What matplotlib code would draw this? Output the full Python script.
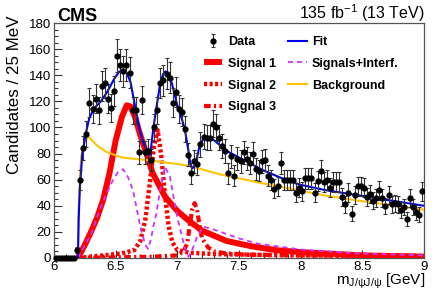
import numpy as np
import matplotlib
matplotlib.use("Agg")
import matplotlib.pyplot as plt
from matplotlib.ticker import MultipleLocator
from matplotlib.lines import Line2D

# ---------------- data ----------------
bin_width = 0.025
bin_start = 6.0
counts = [0, 0, 0, 0, 0, 0, 0, 6, 60, 84,
          95, 119, 114, 122, 113, 132, 134, 122, 115, 128,
          155, 148, 143, 148, 142, 113, 113, 81, 121, 81,
          82, 75, 100, 113, 134, 136, 141, 138, 119, 127,
          114, 112, 99, 79, 65, 74, 72, 87, 93, 92,
          92, 103, 100, 92, 86, 82, 65, 78, 63, 76,
          74, 81, 76, 73, 80, 68, 67, 74, 75, 63,
          60, 53, 55, 73, 60, 60, 60, 60, 50, 54,
          51, 61, 61, 61, 50, 59, 67, 58, 60, 54,
          58, 58, 58, 47, 41, 50, 34, 48, 55, 55,
          54, 47, 49, 44, 46, 52, 46, 40, 48, 41,
          42, 41, 37, 39, 30, 46, 39, 35, 33, 51]

fit_x = [6.194, 6.20, 6.21, 6.23, 6.257, 6.286, 6.324, 6.38, 6.43, 6.49, 6.527, 6.555,
         6.585, 6.62, 6.65, 6.69, 6.725, 6.765, 6.78, 6.805, 6.83, 6.86, 6.885, 6.905,
         6.93, 6.955, 7.00, 7.035, 7.06, 7.09, 7.105, 7.12, 7.135, 7.16, 7.18, 7.21, 7.24,
         7.30, 7.40, 7.50, 7.60, 7.70, 7.80, 7.90, 8.00, 8.20, 8.40, 8.60, 8.80, 9.00]
fit_y = [0, 30, 54, 80, 95, 107, 114.5, 120, 127, 137.5, 142.5, 144,
         142.5, 135, 120, 100, 88, 80, 79, 99, 115, 133, 141, 143,
         140, 134, 117, 107, 99, 82, 72, 68.5, 70, 77, 86, 91, 92,
         90, 82, 77, 72, 67, 63, 59, 56, 52, 49, 46, 43, 40]

sig_x = [6.194, 6.21, 6.30, 6.37, 6.43, 6.48, 6.52, 6.56, 6.60, 6.64, 6.70, 6.74, 6.762,
         6.785, 6.805, 6.83, 6.86, 6.90, 6.94, 7.00, 7.06, 7.09, 7.12, 7.16, 7.21, 7.29,
         7.38, 7.50, 7.65, 8.00, 8.46, 9.00]
sig_y = [0, 3, 18, 37, 50, 60, 66, 68, 62, 52, 24, 10, 7,
         14, 24, 34, 52, 70, 62, 31, 8, 1, 6, 16, 24, 22,
         19, 15, 11, 6.5, 3.5, 2]

bkg_x = [6.194, 6.20, 6.22, 6.25, 6.28, 6.30, 6.35, 6.43, 6.55, 6.80, 7.00, 7.10,
         7.35, 7.65, 7.92, 8.19, 8.46, 8.73, 9.00]
bkg_y = [0, 40, 78, 90, 92.5, 91, 86, 81, 77, 74.5, 72, 70.5,
         64, 58, 53, 48, 44, 40.5, 37]

s1_x = [6.194, 6.25, 6.30, 6.35, 6.40, 6.45, 6.50, 6.55, 6.59, 6.62, 6.657, 6.70,
        6.75, 6.80, 6.90, 7.00, 7.10, 7.20, 7.30, 7.40, 7.60, 7.80, 8.00, 8.50, 9.00]
s1_y = [0, 10, 20, 31, 45, 65, 90, 108, 117, 116, 108, 94,
        80, 65, 47, 36, 28, 21, 17, 13, 9, 6, 4.5, 2, 1]

s2_x = [6.194, 6.40, 6.55, 6.65, 6.70, 6.74, 6.78, 6.81, 6.84, 6.87, 6.90, 6.93,
        6.96, 7.00, 7.10, 7.30, 7.60, 8.00, 9.00]
s2_y = [0, 2, 3.5, 6, 13, 29, 60, 85, 98, 78, 48, 24,
        12, 6, 4, 3, 2.5, 2, 1.5]

s3_x = [6.194, 6.80, 7.00, 7.05, 7.08, 7.10, 7.12, 7.14, 7.16, 7.18, 7.20, 7.25,
        7.30, 7.40, 7.60, 8.00, 9.00]
s3_y = [0, 1, 2, 5, 11, 24, 37, 42, 37, 25, 15, 8,
        5, 3.5, 2.5, 2, 1.5]

x_ticks = [6, 6.5, 7, 7.5, 8, 8.5, 9]
x_ticklabels = ["6", "6.5", "7", "7.5", "8", "8.5", "9"]
y_ticks = [0, 20, 40, 60, 80, 100, 120, 140, 160, 180]

# ---------------- plotting ----------------
plt.rcParams['font.family'] = ['Liberation Sans', 'DejaVu Sans']
plt.rcParams['mathtext.fontset'] = 'custom'
plt.rcParams['mathtext.rm'] = 'Liberation Sans'
plt.rcParams['mathtext.it'] = 'Liberation Sans:italic'

W, H = 447, 293
fig = plt.figure(figsize=(W / 100, H / 100), dpi=100)
ax = fig.add_axes([54 / W, 1 - 258 / H, (424 - 54) / W, (258 - 23) / H])

counts = np.array(counts, dtype=float)
centers = bin_start + bin_width * (np.arange(len(counts)) + 0.5)
nz = counts > 0
errs = np.sqrt(counts)

C_FIT = '#0000ee'
C_SIG = '#cc33ff'
C_BKG = '#ffc400'
C_RED = '#ff0000'
LS_S2 = (0, (0.7, 0.55))
LS_S3 = (0, (1.6, 0.8, 0.5, 0.8))
LS_SIG = (0, (2.8, 2.2))

# zero bins
ax.plot(centers[~nz], counts[~nz], 'o', color='black', ms=3.5, zorder=6, clip_on=False)

ax.plot(s1_x, s1_y, color=C_RED, lw=4.3, solid_capstyle='butt', zorder=2)
ax.plot(s2_x, s2_y, color=C_RED, lw=3.2, linestyle=LS_S2, zorder=2)
ax.plot(s3_x, s3_y, color=C_RED, lw=3.0, linestyle=LS_S3, zorder=2)
ax.plot(sig_x, sig_y, color=C_SIG, lw=1.3, linestyle=LS_SIG, zorder=3)
ax.plot(bkg_x, bkg_y, color=C_BKG, lw=1.5, zorder=3)
ax.plot(fit_x, fit_y, color=C_FIT, lw=1.5, zorder=4)

eb = ax.errorbar(centers[nz], counts[nz], yerr=errs[nz], fmt='o', color='black',
                 ms=3.5, ecolor='#333333', elinewidth=0.8, capsize=1.2, capthick=0.8,
                 zorder=6)

ax.set_xlim(6, 9)
ax.set_ylim(0, 180)
ax.set_xticks(x_ticks)
ax.set_xticklabels(x_ticklabels)
ax.set_yticks(y_ticks)
ax.xaxis.set_minor_locator(MultipleLocator(0.1))
ax.yaxis.set_minor_locator(MultipleLocator(5))
ax.tick_params(which='both', direction='in', top=False, right=False, labelsize=9.5,
               color='#333333')
ax.tick_params(which='major', length=6, width=0.8)
ax.tick_params(which='minor', length=3, width=0.8)
ax.tick_params(axis='y', pad=2)
ax.tick_params(axis='x', pad=2)
for s in ax.spines.values():
    s.set_color('#555555')
    s.set_linewidth(0.9)

fig.text(15 / W, 1 - 16 / H, "Candidates / 25 MeV", rotation=90, ha='center', va='top',
         fontsize=12.2)
fig.text(425 / W, 1 - 285 / H, r"m$_{\mathrm{J/\psi J/\psi}}$ [GeV]", ha='right',
         va='baseline', fontsize=11)
fig.text(57 / W, 1 - 21 / H, "CMS", ha='left', va='baseline', fontsize=13,
         fontweight='bold')
fig.text(425 / W, 1 - 19 / H, r"135 fb$^{-1}$ (13 TeV)", ha='right', va='baseline',
         fontsize=11.5)

h_fit = Line2D([], [], color=C_FIT, lw=1.5)
h_sig = Line2D([], [], color=C_SIG, lw=1.3, linestyle=LS_SIG)
h_bkg = Line2D([], [], color=C_BKG, lw=1.5)
h_s1 = Line2D([], [], color=C_RED, lw=4.3, solid_capstyle='butt')
h_s2 = Line2D([], [], color=C_RED, lw=3.2, linestyle=LS_S2)
h_s3 = Line2D([], [], color=C_RED, lw=3.0, linestyle=LS_S3)

leg = ax.legend([eb, h_s1, h_s2, h_s3, h_fit, h_sig, h_bkg],
                ["Data", "Signal 1", "Signal 2", "Signal 3", "Fit", "Signals+Interf.",
                 "Background"],
                ncol=2, loc='upper left', bbox_to_anchor=(204 / W, 1 - 36 / H),
                bbox_transform=fig.transFigure, frameon=False,
                prop={'weight': 'bold', 'size': 9}, handlelength=1.45,
                handletextpad=0.45, columnspacing=1.0, labelspacing=0.78,
                borderpad=0, borderaxespad=0)

fig.savefig("out.png", dpi=100)
